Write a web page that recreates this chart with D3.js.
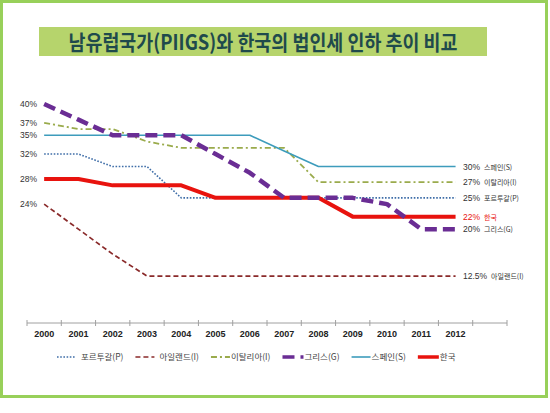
<!DOCTYPE html>
<html><head><meta charset="utf-8">
<script src="https://cdn.jsdelivr.net/npm/d3@7"></script>
<style>
html,body{margin:0;padding:0;background:#fff;}
svg{display:block;}
</style></head>
<body>
<svg id="c" width="550" height="413"></svg>
<script>
const title = "남유럽국가(PIIGS)와 한국의 법인세 인하 추이 비교";
const years = ["2000","2001","2002","2003","2004","2005","2006","2007","2008","2009","2010","2011","2012"];
const yTicks = [40, 37, 35, 32, 28, 24];
const portugal = [32, 32, 30, 30, 25, 25, 25, 25, 25, 25, 25, 25, 25];
const ireland  = [24, 20, 16, 12.5, 12.5, 12.5, 12.5, 12.5, 12.5, 12.5, 12.5, 12.5, 12.5];
const italy    = [37, 36, 36, 34, 33, 33, 33, 33, 27.5, 27.5, 27.5, 27.5, 27.5];
const greece   = [40, 37.5, 35, 35, 35, 32, 29, 25, 25, 25, 24, 20, 20];
const spain    = [35, 35, 35, 35, 35, 35, 35, 32.5, 30, 30, 30, 30, 30];
const korea    = [28, 28, 27, 27, 27, 25, 25, 25, 25, 22, 22, 22, 22];
const seriesNames = ["포르투갈(P)", "아일랜드(I)", "이탈리아(I)", "그리스(G)", "스페인(S)", "한국"];
const endLabels = ["25%", "12.5%", "27%", "20%", "30%", "22%"];

const styles = [
  {color:"#3f6ea8", width:1.6, dash:"1.6,1.6"},
  {color:"#8a2a2a", width:1.7, dash:"5,3"},
  {color:"#9aab4c", width:1.8, dash:"6,3,2,3"},
  {color:"#6a2d94", width:4.5, dash:"12,6"},
  {color:"#3d9cbc", width:1.6, dash:null},
  {color:"#e8130e", width:4, dash:null}
];
const allSeries = [portugal, ireland, italy, greece, spain, korea];

const svg = d3.select("#c");
const font = "'Liberation Sans', Arial, 'Noto Sans CJK KR', sans-serif";
const krFont = "'Noto Sans CJK KR', 'Liberation Sans', sans-serif";

// frame
svg.append("rect").attr("x",1.5).attr("y",1.5).attr("width",545).attr("height",395)
  .attr("fill","#fff").attr("stroke","#98d05a").attr("stroke-width",3);

// title
svg.append("rect").attr("x",39).attr("y",27).attr("width",448).attr("height",29).attr("fill","#b6d46c");
svg.append("text").attr("x",263).attr("y",50).attr("text-anchor","middle")
  .attr("font-family",krFont).attr("font-weight","bold").attr("font-size",21)
  .attr("fill","#1f4a4c").attr("textLength",389).attr("lengthAdjust","spacingAndGlyphs")
  .text(title);

// scales
const x = d3.scaleBand().domain(years.concat(["_"])).range([27, 507]).padding(0);
const y = d3.scaleLinear().domain([5, 40]).range([323, 104]);
const cx = d => x(d) + x.bandwidth()/2;

// x axis
const axisY = 323;
const ax = svg.append("g");
ax.append("line").attr("x1",x.range()[0]).attr("x2",x.range()[1]).attr("y1",axisY).attr("y2",axisY)
  .attr("stroke","#a0a0a0").attr("stroke-width",1);
const bounds = x.domain().map(d => x(d)).concat([x.range()[1]]);
ax.selectAll("line.t").data(bounds).join("line").attr("class","t")
  .attr("x1",d=>d).attr("x2",d=>d).attr("y1",axisY-3).attr("y2",axisY+3)
  .attr("stroke","#a0a0a0").attr("stroke-width",1);
ax.selectAll("text").data(years).join("text")
  .attr("x",d=>cx(d)).attr("y",axisY+14).attr("text-anchor","middle")
  .attr("font-family",font).attr("font-size",9).attr("font-weight","bold").attr("fill","#222")
  .text(d=>d);

// y labels
svg.append("g").selectAll("text").data(yTicks).join("text")
  .attr("x",37).attr("y",d=>y(d)+3).attr("text-anchor","end")
  .attr("font-family",font).attr("font-size",8.5).attr("fill","#333")
  .text(d=>d+"%");

// lines
const line = d3.line().x((d,i)=>cx(years[i])).y(d=>y(d));
const order = [1, 0, 2, 4, 5, 3];
order.forEach(k => {
  const s = styles[k];
  svg.append("path").datum(allSeries[k]).attr("d",line)
    .attr("fill","none").attr("stroke",s.color).attr("stroke-width",s.width)
    .attr("stroke-dasharray",s.dash).attr("stroke-linejoin","round");
});

// end labels
allSeries.forEach((vals,k) => {
  const isKorea = k === 5;
  const t = svg.append("text").attr("x",463).attr("y",y(vals[vals.length-1])+3)
    .attr("font-family",font).attr("fill",isKorea ? "#e8130e" : "#333");
  t.append("tspan").attr("font-size",8.5).text(endLabels[k]);
  t.append("tspan").attr("dx",4).attr("font-size",7).attr("font-family",krFont).text(seriesNames[k]);
});

// legend
const lg = svg.append("g");
let lx = 57;
const ly = 357;
seriesNames.forEach((name,k) => {
  const s = styles[k];
  const sw = k === 3 || k === 5 ? 21 : 19;
  lg.append("line").attr("x1",lx).attr("x2",lx+sw).attr("y1",ly).attr("y2",ly)
    .attr("stroke",s.color).attr("stroke-width",Math.min(s.width,3.5)).attr("stroke-dasharray",s.dash);
  const gap = (k >= 2) ? 1 : 5;
  const tt = lg.append("text").attr("x",lx+sw+gap).attr("y",ly+3)
    .attr("font-family",krFont).attr("font-size",8.5).attr("fill","#444").text(name);
  const w = tt.node().getComputedTextLength();
  lx = lx + sw + gap + w + 12;
});
</script>
</body></html>
